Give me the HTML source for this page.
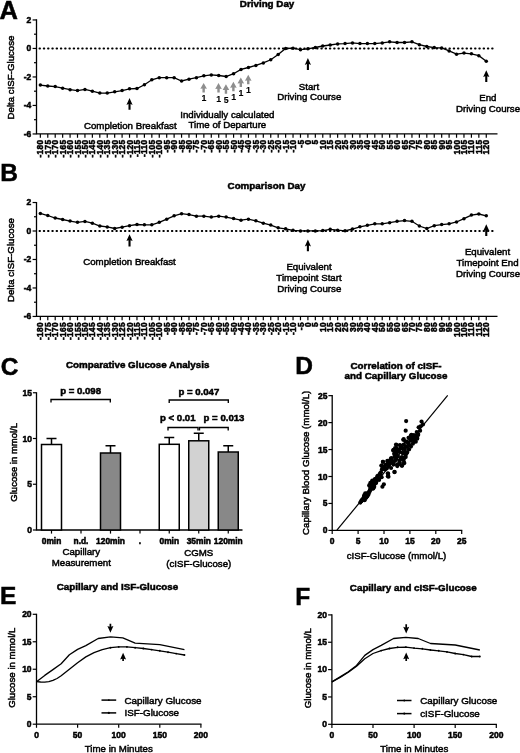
<!DOCTYPE html>
<html><head><meta charset="utf-8"><title>Figure</title>
<style>html,body{margin:0;padding:0;background:#fff;}svg{display:block;will-change:transform;filter:blur(0.35px);}text{font-family:'Liberation Sans',sans-serif;}</style>
</head><body>
<svg width="520" height="753" viewBox="0 0 520 753">
<rect width="520" height="753" fill="#fff"/>
<g id="panelA">
<path d="M36.5 19.35 V133.95 H497.5" fill="none" stroke="#000" stroke-width="1.3"/>
<path d="M32.6 19.95 H36.5" stroke="#000" stroke-width="1.2"/>
<path d="M34.0 34.20 H36.5" stroke="#000" stroke-width="1.2"/>
<path d="M32.6 48.45 H36.5" stroke="#000" stroke-width="1.2"/>
<path d="M34.0 62.70 H36.5" stroke="#000" stroke-width="1.2"/>
<path d="M32.6 76.95 H36.5" stroke="#000" stroke-width="1.2"/>
<path d="M34.0 91.20 H36.5" stroke="#000" stroke-width="1.2"/>
<path d="M32.6 105.45 H36.5" stroke="#000" stroke-width="1.2"/>
<path d="M34.0 119.70 H36.5" stroke="#000" stroke-width="1.2"/>
<path d="M32.6 133.95 H36.5" stroke="#000" stroke-width="1.2"/>
<text x="31.20" y="22.70" font-size="8.5" text-anchor="end" fill="#000" font-weight="bold" stroke="#000" stroke-width="0.5">2</text>
<text x="31.20" y="51.20" font-size="8.5" text-anchor="end" fill="#000" font-weight="bold" stroke="#000" stroke-width="0.5">0</text>
<text x="31.20" y="79.70" font-size="8.5" text-anchor="end" fill="#000" font-weight="bold" stroke="#000" stroke-width="0.5">-2</text>
<text x="31.20" y="108.20" font-size="8.5" text-anchor="end" fill="#000" font-weight="bold" stroke="#000" stroke-width="0.5">-4</text>
<text x="31.20" y="136.70" font-size="8.5" text-anchor="end" fill="#000" font-weight="bold" stroke="#000" stroke-width="0.5">-6</text>
<path d="M39.45 48.45 H494.2" stroke="#000" stroke-width="1.85" stroke-linecap="round" stroke-dasharray="0.6 3.67"/>
<path d="M40.35 133.95 V137.75" stroke="#000" stroke-width="1.2"/>
<text x="43.40" y="139.65" font-size="8.3" text-anchor="end" fill="#000" font-weight="bold" stroke="#000" stroke-width="0.5" transform="rotate(-90 43.40 139.65)" letter-spacing="0.3">-180</text>
<path d="M47.78 133.95 V137.75" stroke="#000" stroke-width="1.2"/>
<text x="50.83" y="139.65" font-size="8.3" text-anchor="end" fill="#000" font-weight="bold" stroke="#000" stroke-width="0.5" transform="rotate(-90 50.83 139.65)" letter-spacing="0.3">-175</text>
<path d="M55.21 133.95 V137.75" stroke="#000" stroke-width="1.2"/>
<text x="58.26" y="139.65" font-size="8.3" text-anchor="end" fill="#000" font-weight="bold" stroke="#000" stroke-width="0.5" transform="rotate(-90 58.26 139.65)" letter-spacing="0.3">-170</text>
<path d="M62.65 133.95 V137.75" stroke="#000" stroke-width="1.2"/>
<text x="65.70" y="139.65" font-size="8.3" text-anchor="end" fill="#000" font-weight="bold" stroke="#000" stroke-width="0.5" transform="rotate(-90 65.70 139.65)" letter-spacing="0.3">-165</text>
<path d="M70.08 133.95 V137.75" stroke="#000" stroke-width="1.2"/>
<text x="73.13" y="139.65" font-size="8.3" text-anchor="end" fill="#000" font-weight="bold" stroke="#000" stroke-width="0.5" transform="rotate(-90 73.13 139.65)" letter-spacing="0.3">-160</text>
<path d="M77.51 133.95 V137.75" stroke="#000" stroke-width="1.2"/>
<text x="80.56" y="139.65" font-size="8.3" text-anchor="end" fill="#000" font-weight="bold" stroke="#000" stroke-width="0.5" transform="rotate(-90 80.56 139.65)" letter-spacing="0.3">-155</text>
<path d="M84.94 133.95 V137.75" stroke="#000" stroke-width="1.2"/>
<text x="87.99" y="139.65" font-size="8.3" text-anchor="end" fill="#000" font-weight="bold" stroke="#000" stroke-width="0.5" transform="rotate(-90 87.99 139.65)" letter-spacing="0.3">-150</text>
<path d="M92.37 133.95 V137.75" stroke="#000" stroke-width="1.2"/>
<text x="95.42" y="139.65" font-size="8.3" text-anchor="end" fill="#000" font-weight="bold" stroke="#000" stroke-width="0.5" transform="rotate(-90 95.42 139.65)" letter-spacing="0.3">-145</text>
<path d="M99.81 133.95 V137.75" stroke="#000" stroke-width="1.2"/>
<text x="102.86" y="139.65" font-size="8.3" text-anchor="end" fill="#000" font-weight="bold" stroke="#000" stroke-width="0.5" transform="rotate(-90 102.86 139.65)" letter-spacing="0.3">-140</text>
<path d="M107.24 133.95 V137.75" stroke="#000" stroke-width="1.2"/>
<text x="110.29" y="139.65" font-size="8.3" text-anchor="end" fill="#000" font-weight="bold" stroke="#000" stroke-width="0.5" transform="rotate(-90 110.29 139.65)" letter-spacing="0.3">-135</text>
<path d="M114.67 133.95 V137.75" stroke="#000" stroke-width="1.2"/>
<text x="117.72" y="139.65" font-size="8.3" text-anchor="end" fill="#000" font-weight="bold" stroke="#000" stroke-width="0.5" transform="rotate(-90 117.72 139.65)" letter-spacing="0.3">-130</text>
<path d="M122.10 133.95 V137.75" stroke="#000" stroke-width="1.2"/>
<text x="125.15" y="139.65" font-size="8.3" text-anchor="end" fill="#000" font-weight="bold" stroke="#000" stroke-width="0.5" transform="rotate(-90 125.15 139.65)" letter-spacing="0.3">-125</text>
<path d="M129.53 133.95 V137.75" stroke="#000" stroke-width="1.2"/>
<text x="132.58" y="139.65" font-size="8.3" text-anchor="end" fill="#000" font-weight="bold" stroke="#000" stroke-width="0.5" transform="rotate(-90 132.58 139.65)" letter-spacing="0.3">-120</text>
<path d="M136.97 133.95 V137.75" stroke="#000" stroke-width="1.2"/>
<text x="140.02" y="139.65" font-size="8.3" text-anchor="end" fill="#000" font-weight="bold" stroke="#000" stroke-width="0.5" transform="rotate(-90 140.02 139.65)" letter-spacing="0.3">-115</text>
<path d="M144.40 133.95 V137.75" stroke="#000" stroke-width="1.2"/>
<text x="147.45" y="139.65" font-size="8.3" text-anchor="end" fill="#000" font-weight="bold" stroke="#000" stroke-width="0.5" transform="rotate(-90 147.45 139.65)" letter-spacing="0.3">-110</text>
<path d="M151.83 133.95 V137.75" stroke="#000" stroke-width="1.2"/>
<text x="154.88" y="139.65" font-size="8.3" text-anchor="end" fill="#000" font-weight="bold" stroke="#000" stroke-width="0.5" transform="rotate(-90 154.88 139.65)" letter-spacing="0.3">-105</text>
<path d="M159.26 133.95 V137.75" stroke="#000" stroke-width="1.2"/>
<text x="162.31" y="139.65" font-size="8.3" text-anchor="end" fill="#000" font-weight="bold" stroke="#000" stroke-width="0.5" transform="rotate(-90 162.31 139.65)" letter-spacing="0.3">-100</text>
<path d="M166.69 133.95 V137.75" stroke="#000" stroke-width="1.2"/>
<text x="169.74" y="139.65" font-size="8.3" text-anchor="end" fill="#000" font-weight="bold" stroke="#000" stroke-width="0.5" transform="rotate(-90 169.74 139.65)" letter-spacing="0.3">-95</text>
<path d="M174.13 133.95 V137.75" stroke="#000" stroke-width="1.2"/>
<text x="177.18" y="139.65" font-size="8.3" text-anchor="end" fill="#000" font-weight="bold" stroke="#000" stroke-width="0.5" transform="rotate(-90 177.18 139.65)" letter-spacing="0.3">-90</text>
<path d="M181.56 133.95 V137.75" stroke="#000" stroke-width="1.2"/>
<text x="184.61" y="139.65" font-size="8.3" text-anchor="end" fill="#000" font-weight="bold" stroke="#000" stroke-width="0.5" transform="rotate(-90 184.61 139.65)" letter-spacing="0.3">-85</text>
<path d="M188.99 133.95 V137.75" stroke="#000" stroke-width="1.2"/>
<text x="192.04" y="139.65" font-size="8.3" text-anchor="end" fill="#000" font-weight="bold" stroke="#000" stroke-width="0.5" transform="rotate(-90 192.04 139.65)" letter-spacing="0.3">-80</text>
<path d="M196.42 133.95 V137.75" stroke="#000" stroke-width="1.2"/>
<text x="199.47" y="139.65" font-size="8.3" text-anchor="end" fill="#000" font-weight="bold" stroke="#000" stroke-width="0.5" transform="rotate(-90 199.47 139.65)" letter-spacing="0.3">-75</text>
<path d="M203.85 133.95 V137.75" stroke="#000" stroke-width="1.2"/>
<text x="206.90" y="139.65" font-size="8.3" text-anchor="end" fill="#000" font-weight="bold" stroke="#000" stroke-width="0.5" transform="rotate(-90 206.90 139.65)" letter-spacing="0.3">-70</text>
<path d="M211.29 133.95 V137.75" stroke="#000" stroke-width="1.2"/>
<text x="214.34" y="139.65" font-size="8.3" text-anchor="end" fill="#000" font-weight="bold" stroke="#000" stroke-width="0.5" transform="rotate(-90 214.34 139.65)" letter-spacing="0.3">-65</text>
<path d="M218.72 133.95 V137.75" stroke="#000" stroke-width="1.2"/>
<text x="221.77" y="139.65" font-size="8.3" text-anchor="end" fill="#000" font-weight="bold" stroke="#000" stroke-width="0.5" transform="rotate(-90 221.77 139.65)" letter-spacing="0.3">-60</text>
<path d="M226.15 133.95 V137.75" stroke="#000" stroke-width="1.2"/>
<text x="229.20" y="139.65" font-size="8.3" text-anchor="end" fill="#000" font-weight="bold" stroke="#000" stroke-width="0.5" transform="rotate(-90 229.20 139.65)" letter-spacing="0.3">-55</text>
<path d="M233.58 133.95 V137.75" stroke="#000" stroke-width="1.2"/>
<text x="236.63" y="139.65" font-size="8.3" text-anchor="end" fill="#000" font-weight="bold" stroke="#000" stroke-width="0.5" transform="rotate(-90 236.63 139.65)" letter-spacing="0.3">-50</text>
<path d="M241.01 133.95 V137.75" stroke="#000" stroke-width="1.2"/>
<text x="244.06" y="139.65" font-size="8.3" text-anchor="end" fill="#000" font-weight="bold" stroke="#000" stroke-width="0.5" transform="rotate(-90 244.06 139.65)" letter-spacing="0.3">-45</text>
<path d="M248.45 133.95 V137.75" stroke="#000" stroke-width="1.2"/>
<text x="251.50" y="139.65" font-size="8.3" text-anchor="end" fill="#000" font-weight="bold" stroke="#000" stroke-width="0.5" transform="rotate(-90 251.50 139.65)" letter-spacing="0.3">-40</text>
<path d="M255.88 133.95 V137.75" stroke="#000" stroke-width="1.2"/>
<text x="258.93" y="139.65" font-size="8.3" text-anchor="end" fill="#000" font-weight="bold" stroke="#000" stroke-width="0.5" transform="rotate(-90 258.93 139.65)" letter-spacing="0.3">-35</text>
<path d="M263.31 133.95 V137.75" stroke="#000" stroke-width="1.2"/>
<text x="266.36" y="139.65" font-size="8.3" text-anchor="end" fill="#000" font-weight="bold" stroke="#000" stroke-width="0.5" transform="rotate(-90 266.36 139.65)" letter-spacing="0.3">-30</text>
<path d="M270.74 133.95 V137.75" stroke="#000" stroke-width="1.2"/>
<text x="273.79" y="139.65" font-size="8.3" text-anchor="end" fill="#000" font-weight="bold" stroke="#000" stroke-width="0.5" transform="rotate(-90 273.79 139.65)" letter-spacing="0.3">-25</text>
<path d="M278.17 133.95 V137.75" stroke="#000" stroke-width="1.2"/>
<text x="281.22" y="139.65" font-size="8.3" text-anchor="end" fill="#000" font-weight="bold" stroke="#000" stroke-width="0.5" transform="rotate(-90 281.22 139.65)" letter-spacing="0.3">-20</text>
<path d="M285.61 133.95 V137.75" stroke="#000" stroke-width="1.2"/>
<text x="288.66" y="139.65" font-size="8.3" text-anchor="end" fill="#000" font-weight="bold" stroke="#000" stroke-width="0.5" transform="rotate(-90 288.66 139.65)" letter-spacing="0.3">-15</text>
<path d="M293.04 133.95 V137.75" stroke="#000" stroke-width="1.2"/>
<text x="296.09" y="139.65" font-size="8.3" text-anchor="end" fill="#000" font-weight="bold" stroke="#000" stroke-width="0.5" transform="rotate(-90 296.09 139.65)" letter-spacing="0.3">-10</text>
<path d="M300.47 133.95 V137.75" stroke="#000" stroke-width="1.2"/>
<text x="303.52" y="139.65" font-size="8.3" text-anchor="end" fill="#000" font-weight="bold" stroke="#000" stroke-width="0.5" transform="rotate(-90 303.52 139.65)" letter-spacing="0.3">-5</text>
<path d="M307.90 133.95 V137.75" stroke="#000" stroke-width="1.2"/>
<text x="310.95" y="139.65" font-size="8.3" text-anchor="end" fill="#000" font-weight="bold" stroke="#000" stroke-width="0.5" transform="rotate(-90 310.95 139.65)" letter-spacing="0.3">0</text>
<path d="M315.33 133.95 V137.75" stroke="#000" stroke-width="1.2"/>
<text x="318.38" y="139.65" font-size="8.3" text-anchor="end" fill="#000" font-weight="bold" stroke="#000" stroke-width="0.5" transform="rotate(-90 318.38 139.65)" letter-spacing="0.3">5</text>
<path d="M322.77 133.95 V137.75" stroke="#000" stroke-width="1.2"/>
<text x="325.82" y="139.65" font-size="8.3" text-anchor="end" fill="#000" font-weight="bold" stroke="#000" stroke-width="0.5" transform="rotate(-90 325.82 139.65)" letter-spacing="0.3">10</text>
<path d="M330.20 133.95 V137.75" stroke="#000" stroke-width="1.2"/>
<text x="333.25" y="139.65" font-size="8.3" text-anchor="end" fill="#000" font-weight="bold" stroke="#000" stroke-width="0.5" transform="rotate(-90 333.25 139.65)" letter-spacing="0.3">15</text>
<path d="M337.63 133.95 V137.75" stroke="#000" stroke-width="1.2"/>
<text x="340.68" y="139.65" font-size="8.3" text-anchor="end" fill="#000" font-weight="bold" stroke="#000" stroke-width="0.5" transform="rotate(-90 340.68 139.65)" letter-spacing="0.3">20</text>
<path d="M345.06 133.95 V137.75" stroke="#000" stroke-width="1.2"/>
<text x="348.11" y="139.65" font-size="8.3" text-anchor="end" fill="#000" font-weight="bold" stroke="#000" stroke-width="0.5" transform="rotate(-90 348.11 139.65)" letter-spacing="0.3">25</text>
<path d="M352.49 133.95 V137.75" stroke="#000" stroke-width="1.2"/>
<text x="355.54" y="139.65" font-size="8.3" text-anchor="end" fill="#000" font-weight="bold" stroke="#000" stroke-width="0.5" transform="rotate(-90 355.54 139.65)" letter-spacing="0.3">30</text>
<path d="M359.93 133.95 V137.75" stroke="#000" stroke-width="1.2"/>
<text x="362.98" y="139.65" font-size="8.3" text-anchor="end" fill="#000" font-weight="bold" stroke="#000" stroke-width="0.5" transform="rotate(-90 362.98 139.65)" letter-spacing="0.3">35</text>
<path d="M367.36 133.95 V137.75" stroke="#000" stroke-width="1.2"/>
<text x="370.41" y="139.65" font-size="8.3" text-anchor="end" fill="#000" font-weight="bold" stroke="#000" stroke-width="0.5" transform="rotate(-90 370.41 139.65)" letter-spacing="0.3">40</text>
<path d="M374.79 133.95 V137.75" stroke="#000" stroke-width="1.2"/>
<text x="377.84" y="139.65" font-size="8.3" text-anchor="end" fill="#000" font-weight="bold" stroke="#000" stroke-width="0.5" transform="rotate(-90 377.84 139.65)" letter-spacing="0.3">45</text>
<path d="M382.22 133.95 V137.75" stroke="#000" stroke-width="1.2"/>
<text x="385.27" y="139.65" font-size="8.3" text-anchor="end" fill="#000" font-weight="bold" stroke="#000" stroke-width="0.5" transform="rotate(-90 385.27 139.65)" letter-spacing="0.3">50</text>
<path d="M389.65 133.95 V137.75" stroke="#000" stroke-width="1.2"/>
<text x="392.70" y="139.65" font-size="8.3" text-anchor="end" fill="#000" font-weight="bold" stroke="#000" stroke-width="0.5" transform="rotate(-90 392.70 139.65)" letter-spacing="0.3">55</text>
<path d="M397.09 133.95 V137.75" stroke="#000" stroke-width="1.2"/>
<text x="400.14" y="139.65" font-size="8.3" text-anchor="end" fill="#000" font-weight="bold" stroke="#000" stroke-width="0.5" transform="rotate(-90 400.14 139.65)" letter-spacing="0.3">60</text>
<path d="M404.52 133.95 V137.75" stroke="#000" stroke-width="1.2"/>
<text x="407.57" y="139.65" font-size="8.3" text-anchor="end" fill="#000" font-weight="bold" stroke="#000" stroke-width="0.5" transform="rotate(-90 407.57 139.65)" letter-spacing="0.3">65</text>
<path d="M411.95 133.95 V137.75" stroke="#000" stroke-width="1.2"/>
<text x="415.00" y="139.65" font-size="8.3" text-anchor="end" fill="#000" font-weight="bold" stroke="#000" stroke-width="0.5" transform="rotate(-90 415.00 139.65)" letter-spacing="0.3">70</text>
<path d="M419.38 133.95 V137.75" stroke="#000" stroke-width="1.2"/>
<text x="422.43" y="139.65" font-size="8.3" text-anchor="end" fill="#000" font-weight="bold" stroke="#000" stroke-width="0.5" transform="rotate(-90 422.43 139.65)" letter-spacing="0.3">75</text>
<path d="M426.81 133.95 V137.75" stroke="#000" stroke-width="1.2"/>
<text x="429.86" y="139.65" font-size="8.3" text-anchor="end" fill="#000" font-weight="bold" stroke="#000" stroke-width="0.5" transform="rotate(-90 429.86 139.65)" letter-spacing="0.3">80</text>
<path d="M434.25 133.95 V137.75" stroke="#000" stroke-width="1.2"/>
<text x="437.30" y="139.65" font-size="8.3" text-anchor="end" fill="#000" font-weight="bold" stroke="#000" stroke-width="0.5" transform="rotate(-90 437.30 139.65)" letter-spacing="0.3">85</text>
<path d="M441.68 133.95 V137.75" stroke="#000" stroke-width="1.2"/>
<text x="444.73" y="139.65" font-size="8.3" text-anchor="end" fill="#000" font-weight="bold" stroke="#000" stroke-width="0.5" transform="rotate(-90 444.73 139.65)" letter-spacing="0.3">90</text>
<path d="M449.11 133.95 V137.75" stroke="#000" stroke-width="1.2"/>
<text x="452.16" y="139.65" font-size="8.3" text-anchor="end" fill="#000" font-weight="bold" stroke="#000" stroke-width="0.5" transform="rotate(-90 452.16 139.65)" letter-spacing="0.3">95</text>
<path d="M456.54 133.95 V137.75" stroke="#000" stroke-width="1.2"/>
<text x="459.59" y="139.65" font-size="8.3" text-anchor="end" fill="#000" font-weight="bold" stroke="#000" stroke-width="0.5" transform="rotate(-90 459.59 139.65)" letter-spacing="0.3">100</text>
<path d="M463.97 133.95 V137.75" stroke="#000" stroke-width="1.2"/>
<text x="467.02" y="139.65" font-size="8.3" text-anchor="end" fill="#000" font-weight="bold" stroke="#000" stroke-width="0.5" transform="rotate(-90 467.02 139.65)" letter-spacing="0.3">105</text>
<path d="M471.41 133.95 V137.75" stroke="#000" stroke-width="1.2"/>
<text x="474.46" y="139.65" font-size="8.3" text-anchor="end" fill="#000" font-weight="bold" stroke="#000" stroke-width="0.5" transform="rotate(-90 474.46 139.65)" letter-spacing="0.3">110</text>
<path d="M478.84 133.95 V137.75" stroke="#000" stroke-width="1.2"/>
<text x="481.89" y="139.65" font-size="8.3" text-anchor="end" fill="#000" font-weight="bold" stroke="#000" stroke-width="0.5" transform="rotate(-90 481.89 139.65)" letter-spacing="0.3">115</text>
<path d="M486.27 133.95 V137.75" stroke="#000" stroke-width="1.2"/>
<text x="489.32" y="139.65" font-size="8.3" text-anchor="end" fill="#000" font-weight="bold" stroke="#000" stroke-width="0.5" transform="rotate(-90 489.32 139.65)" letter-spacing="0.3">120</text>
<polyline points="40.35,85.10 47.78,86.00 55.21,86.60 62.65,88.20 70.08,89.70 77.51,90.60 84.94,89.40 92.37,91.20 99.81,93.10 107.24,93.10 114.67,91.80 122.10,90.60 129.53,88.80 136.97,88.50 144.40,84.80 151.83,79.80 159.26,77.70 166.69,77.70 174.13,77.70 181.56,81.00 188.99,79.20 196.42,77.70 203.85,75.80 211.29,74.90 218.72,75.50 226.15,76.50 233.58,73.70 241.01,69.40 248.45,67.50 255.88,65.40 263.31,62.90 270.74,59.80 278.17,54.60 285.61,48.50 293.04,48.20 300.47,49.70 307.90,48.80 315.33,47.50 322.77,46.00 330.20,45.00 337.63,43.90 345.06,43.60 352.49,42.90 359.93,43.60 367.36,43.60 374.79,43.60 382.22,42.90 389.65,41.80 397.09,42.50 404.52,42.50 411.95,41.80 419.38,44.70 426.81,46.50 434.25,47.60 441.68,48.00 449.11,50.90 456.54,54.20 463.97,53.10 471.41,53.80 478.84,55.70 486.27,61.20" fill="none" stroke="#000" stroke-width="1.3"/>
<circle cx="40.35" cy="85.10" r="1.75" fill="#000"/>
<circle cx="47.78" cy="86.00" r="1.75" fill="#000"/>
<circle cx="55.21" cy="86.60" r="1.75" fill="#000"/>
<circle cx="62.65" cy="88.20" r="1.75" fill="#000"/>
<circle cx="70.08" cy="89.70" r="1.75" fill="#000"/>
<circle cx="77.51" cy="90.60" r="1.75" fill="#000"/>
<circle cx="84.94" cy="89.40" r="1.75" fill="#000"/>
<circle cx="92.37" cy="91.20" r="1.75" fill="#000"/>
<circle cx="99.81" cy="93.10" r="1.75" fill="#000"/>
<circle cx="107.24" cy="93.10" r="1.75" fill="#000"/>
<circle cx="114.67" cy="91.80" r="1.75" fill="#000"/>
<circle cx="122.10" cy="90.60" r="1.75" fill="#000"/>
<circle cx="129.53" cy="88.80" r="1.75" fill="#000"/>
<circle cx="136.97" cy="88.50" r="1.75" fill="#000"/>
<circle cx="144.40" cy="84.80" r="1.75" fill="#000"/>
<circle cx="151.83" cy="79.80" r="1.75" fill="#000"/>
<circle cx="159.26" cy="77.70" r="1.75" fill="#000"/>
<circle cx="166.69" cy="77.70" r="1.75" fill="#000"/>
<circle cx="174.13" cy="77.70" r="1.75" fill="#000"/>
<circle cx="181.56" cy="81.00" r="1.75" fill="#000"/>
<circle cx="188.99" cy="79.20" r="1.75" fill="#000"/>
<circle cx="196.42" cy="77.70" r="1.75" fill="#000"/>
<circle cx="203.85" cy="75.80" r="1.75" fill="#000"/>
<circle cx="211.29" cy="74.90" r="1.75" fill="#000"/>
<circle cx="218.72" cy="75.50" r="1.75" fill="#000"/>
<circle cx="226.15" cy="76.50" r="1.75" fill="#000"/>
<circle cx="233.58" cy="73.70" r="1.75" fill="#000"/>
<circle cx="241.01" cy="69.40" r="1.75" fill="#000"/>
<circle cx="248.45" cy="67.50" r="1.75" fill="#000"/>
<circle cx="255.88" cy="65.40" r="1.75" fill="#000"/>
<circle cx="263.31" cy="62.90" r="1.75" fill="#000"/>
<circle cx="270.74" cy="59.80" r="1.75" fill="#000"/>
<circle cx="278.17" cy="54.60" r="1.75" fill="#000"/>
<circle cx="285.61" cy="48.50" r="1.75" fill="#000"/>
<circle cx="293.04" cy="48.20" r="1.75" fill="#000"/>
<circle cx="300.47" cy="49.70" r="1.75" fill="#000"/>
<circle cx="307.90" cy="48.80" r="1.75" fill="#000"/>
<circle cx="315.33" cy="47.50" r="1.75" fill="#000"/>
<circle cx="322.77" cy="46.00" r="1.75" fill="#000"/>
<circle cx="330.20" cy="45.00" r="1.75" fill="#000"/>
<circle cx="337.63" cy="43.90" r="1.75" fill="#000"/>
<circle cx="345.06" cy="43.60" r="1.75" fill="#000"/>
<circle cx="352.49" cy="42.90" r="1.75" fill="#000"/>
<circle cx="359.93" cy="43.60" r="1.75" fill="#000"/>
<circle cx="367.36" cy="43.60" r="1.75" fill="#000"/>
<circle cx="374.79" cy="43.60" r="1.75" fill="#000"/>
<circle cx="382.22" cy="42.90" r="1.75" fill="#000"/>
<circle cx="389.65" cy="41.80" r="1.75" fill="#000"/>
<circle cx="397.09" cy="42.50" r="1.75" fill="#000"/>
<circle cx="404.52" cy="42.50" r="1.75" fill="#000"/>
<circle cx="411.95" cy="41.80" r="1.75" fill="#000"/>
<circle cx="419.38" cy="44.70" r="1.75" fill="#000"/>
<circle cx="426.81" cy="46.50" r="1.75" fill="#000"/>
<circle cx="434.25" cy="47.60" r="1.75" fill="#000"/>
<circle cx="441.68" cy="48.00" r="1.75" fill="#000"/>
<circle cx="449.11" cy="50.90" r="1.75" fill="#000"/>
<circle cx="456.54" cy="54.20" r="1.75" fill="#000"/>
<circle cx="463.97" cy="53.10" r="1.75" fill="#000"/>
<circle cx="471.41" cy="53.80" r="1.75" fill="#000"/>
<circle cx="478.84" cy="55.70" r="1.75" fill="#000"/>
<circle cx="486.27" cy="61.20" r="1.75" fill="#000"/>
<text x="267.10" y="6.80" font-size="9.8" text-anchor="middle" fill="#000" font-weight="bold" stroke="#000" stroke-width="0.5">Driving Day</text>
<text x="14.20" y="77.50" font-size="9.7" text-anchor="middle" fill="#000" stroke="#000" stroke-width="0.48" transform="rotate(-90 14.20 77.50)">Delta cISF-Glucose</text>
<text x="8.80" y="19.00" font-size="25.5" text-anchor="middle" fill="#000" font-weight="bold" stroke="#000" stroke-width="0.5">A</text>
<path d="M129.53 98.10 L132.63 104.90 L130.58 104.10 L130.58 109.80 L128.48 109.80 L128.48 104.10 L126.43 104.90 Z" fill="#000"/>
<path d="M307.90 58.10 L311.00 64.90 L308.95 64.10 L308.95 70.00 L306.85 70.00 L306.85 64.10 L304.80 64.90 Z" fill="#000"/>
<path d="M486.27 70.30 L489.37 77.10 L487.32 76.30 L487.32 82.00 L485.22 82.00 L485.22 76.30 L483.17 77.10 Z" fill="#000"/>
<path d="M203.65 82.90 L206.95 88.80 L204.85 88.60 L204.85 92.40 L202.45 92.40 L202.45 88.60 L200.35 88.80 Z" fill="#8e8e8e"/>
<text x="203.85" y="101.30" font-size="8.8" text-anchor="middle" fill="#000" font-weight="bold" stroke="#000" stroke-width="0.1">1</text>
<path d="M218.52 83.10 L221.82 89.00 L219.72 88.80 L219.72 92.60 L217.32 92.60 L217.32 88.80 L215.22 89.00 Z" fill="#8e8e8e"/>
<text x="218.72" y="101.50" font-size="8.8" text-anchor="middle" fill="#000" font-weight="bold" stroke="#000" stroke-width="0.1">1</text>
<path d="M225.95 84.20 L229.25 90.10 L227.15 89.90 L227.15 93.70 L224.75 93.70 L224.75 89.90 L222.65 90.10 Z" fill="#8e8e8e"/>
<text x="226.15" y="102.60" font-size="8.8" text-anchor="middle" fill="#000" font-weight="bold" stroke="#000" stroke-width="0.1">5</text>
<path d="M233.38 81.80 L236.68 87.70 L234.58 87.50 L234.58 91.30 L232.18 91.30 L232.18 87.50 L230.08 87.70 Z" fill="#8e8e8e"/>
<text x="233.58" y="100.20" font-size="8.8" text-anchor="middle" fill="#000" font-weight="bold" stroke="#000" stroke-width="0.1">1</text>
<path d="M240.81 77.50 L244.11 83.40 L242.01 83.20 L242.01 87.00 L239.61 87.00 L239.61 83.20 L237.51 83.40 Z" fill="#8e8e8e"/>
<text x="241.01" y="95.90" font-size="8.8" text-anchor="middle" fill="#000" font-weight="bold" stroke="#000" stroke-width="0.1">1</text>
<path d="M248.25 74.80 L251.55 80.70 L249.45 80.50 L249.45 84.30 L247.05 84.30 L247.05 80.50 L244.95 80.70 Z" fill="#8e8e8e"/>
<text x="248.45" y="93.20" font-size="8.8" text-anchor="middle" fill="#000" font-weight="bold" stroke="#000" stroke-width="0.1">1</text>
<text x="130.30" y="129.20" font-size="9.7" text-anchor="middle" fill="#000" stroke="#000" stroke-width="0.48">Completion Breakfast</text>
<text x="227.40" y="117.70" font-size="9.7" text-anchor="middle" fill="#000" stroke="#000" stroke-width="0.48">Individually calculated</text>
<text x="227.40" y="128.20" font-size="9.7" text-anchor="middle" fill="#000" stroke="#000" stroke-width="0.48">Time of Departure</text>
<text x="309.00" y="89.70" font-size="9.7" text-anchor="middle" fill="#000" stroke="#000" stroke-width="0.48">Start</text>
<text x="309.30" y="99.70" font-size="9.7" text-anchor="middle" fill="#000" stroke="#000" stroke-width="0.48">Driving Course</text>
<text x="487.80" y="101.40" font-size="9.7" text-anchor="middle" fill="#000" stroke="#000" stroke-width="0.48">End</text>
<text x="488.00" y="112.40" font-size="9.7" text-anchor="middle" fill="#000" stroke="#000" stroke-width="0.48">Driving Course</text>
</g>
<g id="panelB">
<path d="M36.5 201.92 V316.45 H497.5" fill="none" stroke="#000" stroke-width="1.3"/>
<path d="M32.6 202.52 H36.5" stroke="#000" stroke-width="1.2"/>
<path d="M34.0 216.76 H36.5" stroke="#000" stroke-width="1.2"/>
<path d="M32.6 231.00 H36.5" stroke="#000" stroke-width="1.2"/>
<path d="M34.0 245.24 H36.5" stroke="#000" stroke-width="1.2"/>
<path d="M32.6 259.48 H36.5" stroke="#000" stroke-width="1.2"/>
<path d="M34.0 273.73 H36.5" stroke="#000" stroke-width="1.2"/>
<path d="M32.6 287.97 H36.5" stroke="#000" stroke-width="1.2"/>
<path d="M34.0 302.21 H36.5" stroke="#000" stroke-width="1.2"/>
<path d="M32.6 316.45 H36.5" stroke="#000" stroke-width="1.2"/>
<text x="31.20" y="205.27" font-size="8.5" text-anchor="end" fill="#000" font-weight="bold" stroke="#000" stroke-width="0.5">2</text>
<text x="31.20" y="233.75" font-size="8.5" text-anchor="end" fill="#000" font-weight="bold" stroke="#000" stroke-width="0.5">0</text>
<text x="31.20" y="262.23" font-size="8.5" text-anchor="end" fill="#000" font-weight="bold" stroke="#000" stroke-width="0.5">-2</text>
<text x="31.20" y="290.72" font-size="8.5" text-anchor="end" fill="#000" font-weight="bold" stroke="#000" stroke-width="0.5">-4</text>
<text x="31.20" y="319.20" font-size="8.5" text-anchor="end" fill="#000" font-weight="bold" stroke="#000" stroke-width="0.5">-6</text>
<path d="M39.45 231.00 H494.2" stroke="#000" stroke-width="1.85" stroke-linecap="round" stroke-dasharray="0.6 3.67"/>
<path d="M40.35 316.45 V320.25" stroke="#000" stroke-width="1.2"/>
<text x="43.40" y="322.15" font-size="8.3" text-anchor="end" fill="#000" font-weight="bold" stroke="#000" stroke-width="0.5" transform="rotate(-90 43.40 322.15)" letter-spacing="0.3">-180</text>
<path d="M47.78 316.45 V320.25" stroke="#000" stroke-width="1.2"/>
<text x="50.83" y="322.15" font-size="8.3" text-anchor="end" fill="#000" font-weight="bold" stroke="#000" stroke-width="0.5" transform="rotate(-90 50.83 322.15)" letter-spacing="0.3">-175</text>
<path d="M55.21 316.45 V320.25" stroke="#000" stroke-width="1.2"/>
<text x="58.26" y="322.15" font-size="8.3" text-anchor="end" fill="#000" font-weight="bold" stroke="#000" stroke-width="0.5" transform="rotate(-90 58.26 322.15)" letter-spacing="0.3">-170</text>
<path d="M62.65 316.45 V320.25" stroke="#000" stroke-width="1.2"/>
<text x="65.70" y="322.15" font-size="8.3" text-anchor="end" fill="#000" font-weight="bold" stroke="#000" stroke-width="0.5" transform="rotate(-90 65.70 322.15)" letter-spacing="0.3">-165</text>
<path d="M70.08 316.45 V320.25" stroke="#000" stroke-width="1.2"/>
<text x="73.13" y="322.15" font-size="8.3" text-anchor="end" fill="#000" font-weight="bold" stroke="#000" stroke-width="0.5" transform="rotate(-90 73.13 322.15)" letter-spacing="0.3">-160</text>
<path d="M77.51 316.45 V320.25" stroke="#000" stroke-width="1.2"/>
<text x="80.56" y="322.15" font-size="8.3" text-anchor="end" fill="#000" font-weight="bold" stroke="#000" stroke-width="0.5" transform="rotate(-90 80.56 322.15)" letter-spacing="0.3">-155</text>
<path d="M84.94 316.45 V320.25" stroke="#000" stroke-width="1.2"/>
<text x="87.99" y="322.15" font-size="8.3" text-anchor="end" fill="#000" font-weight="bold" stroke="#000" stroke-width="0.5" transform="rotate(-90 87.99 322.15)" letter-spacing="0.3">-150</text>
<path d="M92.37 316.45 V320.25" stroke="#000" stroke-width="1.2"/>
<text x="95.42" y="322.15" font-size="8.3" text-anchor="end" fill="#000" font-weight="bold" stroke="#000" stroke-width="0.5" transform="rotate(-90 95.42 322.15)" letter-spacing="0.3">-145</text>
<path d="M99.81 316.45 V320.25" stroke="#000" stroke-width="1.2"/>
<text x="102.86" y="322.15" font-size="8.3" text-anchor="end" fill="#000" font-weight="bold" stroke="#000" stroke-width="0.5" transform="rotate(-90 102.86 322.15)" letter-spacing="0.3">-140</text>
<path d="M107.24 316.45 V320.25" stroke="#000" stroke-width="1.2"/>
<text x="110.29" y="322.15" font-size="8.3" text-anchor="end" fill="#000" font-weight="bold" stroke="#000" stroke-width="0.5" transform="rotate(-90 110.29 322.15)" letter-spacing="0.3">-135</text>
<path d="M114.67 316.45 V320.25" stroke="#000" stroke-width="1.2"/>
<text x="117.72" y="322.15" font-size="8.3" text-anchor="end" fill="#000" font-weight="bold" stroke="#000" stroke-width="0.5" transform="rotate(-90 117.72 322.15)" letter-spacing="0.3">-130</text>
<path d="M122.10 316.45 V320.25" stroke="#000" stroke-width="1.2"/>
<text x="125.15" y="322.15" font-size="8.3" text-anchor="end" fill="#000" font-weight="bold" stroke="#000" stroke-width="0.5" transform="rotate(-90 125.15 322.15)" letter-spacing="0.3">-125</text>
<path d="M129.53 316.45 V320.25" stroke="#000" stroke-width="1.2"/>
<text x="132.58" y="322.15" font-size="8.3" text-anchor="end" fill="#000" font-weight="bold" stroke="#000" stroke-width="0.5" transform="rotate(-90 132.58 322.15)" letter-spacing="0.3">-120</text>
<path d="M136.97 316.45 V320.25" stroke="#000" stroke-width="1.2"/>
<text x="140.02" y="322.15" font-size="8.3" text-anchor="end" fill="#000" font-weight="bold" stroke="#000" stroke-width="0.5" transform="rotate(-90 140.02 322.15)" letter-spacing="0.3">-115</text>
<path d="M144.40 316.45 V320.25" stroke="#000" stroke-width="1.2"/>
<text x="147.45" y="322.15" font-size="8.3" text-anchor="end" fill="#000" font-weight="bold" stroke="#000" stroke-width="0.5" transform="rotate(-90 147.45 322.15)" letter-spacing="0.3">-110</text>
<path d="M151.83 316.45 V320.25" stroke="#000" stroke-width="1.2"/>
<text x="154.88" y="322.15" font-size="8.3" text-anchor="end" fill="#000" font-weight="bold" stroke="#000" stroke-width="0.5" transform="rotate(-90 154.88 322.15)" letter-spacing="0.3">-105</text>
<path d="M159.26 316.45 V320.25" stroke="#000" stroke-width="1.2"/>
<text x="162.31" y="322.15" font-size="8.3" text-anchor="end" fill="#000" font-weight="bold" stroke="#000" stroke-width="0.5" transform="rotate(-90 162.31 322.15)" letter-spacing="0.3">-100</text>
<path d="M166.69 316.45 V320.25" stroke="#000" stroke-width="1.2"/>
<text x="169.74" y="322.15" font-size="8.3" text-anchor="end" fill="#000" font-weight="bold" stroke="#000" stroke-width="0.5" transform="rotate(-90 169.74 322.15)" letter-spacing="0.3">-95</text>
<path d="M174.13 316.45 V320.25" stroke="#000" stroke-width="1.2"/>
<text x="177.18" y="322.15" font-size="8.3" text-anchor="end" fill="#000" font-weight="bold" stroke="#000" stroke-width="0.5" transform="rotate(-90 177.18 322.15)" letter-spacing="0.3">-90</text>
<path d="M181.56 316.45 V320.25" stroke="#000" stroke-width="1.2"/>
<text x="184.61" y="322.15" font-size="8.3" text-anchor="end" fill="#000" font-weight="bold" stroke="#000" stroke-width="0.5" transform="rotate(-90 184.61 322.15)" letter-spacing="0.3">-85</text>
<path d="M188.99 316.45 V320.25" stroke="#000" stroke-width="1.2"/>
<text x="192.04" y="322.15" font-size="8.3" text-anchor="end" fill="#000" font-weight="bold" stroke="#000" stroke-width="0.5" transform="rotate(-90 192.04 322.15)" letter-spacing="0.3">-80</text>
<path d="M196.42 316.45 V320.25" stroke="#000" stroke-width="1.2"/>
<text x="199.47" y="322.15" font-size="8.3" text-anchor="end" fill="#000" font-weight="bold" stroke="#000" stroke-width="0.5" transform="rotate(-90 199.47 322.15)" letter-spacing="0.3">-75</text>
<path d="M203.85 316.45 V320.25" stroke="#000" stroke-width="1.2"/>
<text x="206.90" y="322.15" font-size="8.3" text-anchor="end" fill="#000" font-weight="bold" stroke="#000" stroke-width="0.5" transform="rotate(-90 206.90 322.15)" letter-spacing="0.3">-70</text>
<path d="M211.29 316.45 V320.25" stroke="#000" stroke-width="1.2"/>
<text x="214.34" y="322.15" font-size="8.3" text-anchor="end" fill="#000" font-weight="bold" stroke="#000" stroke-width="0.5" transform="rotate(-90 214.34 322.15)" letter-spacing="0.3">-65</text>
<path d="M218.72 316.45 V320.25" stroke="#000" stroke-width="1.2"/>
<text x="221.77" y="322.15" font-size="8.3" text-anchor="end" fill="#000" font-weight="bold" stroke="#000" stroke-width="0.5" transform="rotate(-90 221.77 322.15)" letter-spacing="0.3">-60</text>
<path d="M226.15 316.45 V320.25" stroke="#000" stroke-width="1.2"/>
<text x="229.20" y="322.15" font-size="8.3" text-anchor="end" fill="#000" font-weight="bold" stroke="#000" stroke-width="0.5" transform="rotate(-90 229.20 322.15)" letter-spacing="0.3">-55</text>
<path d="M233.58 316.45 V320.25" stroke="#000" stroke-width="1.2"/>
<text x="236.63" y="322.15" font-size="8.3" text-anchor="end" fill="#000" font-weight="bold" stroke="#000" stroke-width="0.5" transform="rotate(-90 236.63 322.15)" letter-spacing="0.3">-50</text>
<path d="M241.01 316.45 V320.25" stroke="#000" stroke-width="1.2"/>
<text x="244.06" y="322.15" font-size="8.3" text-anchor="end" fill="#000" font-weight="bold" stroke="#000" stroke-width="0.5" transform="rotate(-90 244.06 322.15)" letter-spacing="0.3">-45</text>
<path d="M248.45 316.45 V320.25" stroke="#000" stroke-width="1.2"/>
<text x="251.50" y="322.15" font-size="8.3" text-anchor="end" fill="#000" font-weight="bold" stroke="#000" stroke-width="0.5" transform="rotate(-90 251.50 322.15)" letter-spacing="0.3">-40</text>
<path d="M255.88 316.45 V320.25" stroke="#000" stroke-width="1.2"/>
<text x="258.93" y="322.15" font-size="8.3" text-anchor="end" fill="#000" font-weight="bold" stroke="#000" stroke-width="0.5" transform="rotate(-90 258.93 322.15)" letter-spacing="0.3">-35</text>
<path d="M263.31 316.45 V320.25" stroke="#000" stroke-width="1.2"/>
<text x="266.36" y="322.15" font-size="8.3" text-anchor="end" fill="#000" font-weight="bold" stroke="#000" stroke-width="0.5" transform="rotate(-90 266.36 322.15)" letter-spacing="0.3">-30</text>
<path d="M270.74 316.45 V320.25" stroke="#000" stroke-width="1.2"/>
<text x="273.79" y="322.15" font-size="8.3" text-anchor="end" fill="#000" font-weight="bold" stroke="#000" stroke-width="0.5" transform="rotate(-90 273.79 322.15)" letter-spacing="0.3">-25</text>
<path d="M278.17 316.45 V320.25" stroke="#000" stroke-width="1.2"/>
<text x="281.22" y="322.15" font-size="8.3" text-anchor="end" fill="#000" font-weight="bold" stroke="#000" stroke-width="0.5" transform="rotate(-90 281.22 322.15)" letter-spacing="0.3">-20</text>
<path d="M285.61 316.45 V320.25" stroke="#000" stroke-width="1.2"/>
<text x="288.66" y="322.15" font-size="8.3" text-anchor="end" fill="#000" font-weight="bold" stroke="#000" stroke-width="0.5" transform="rotate(-90 288.66 322.15)" letter-spacing="0.3">-15</text>
<path d="M293.04 316.45 V320.25" stroke="#000" stroke-width="1.2"/>
<text x="296.09" y="322.15" font-size="8.3" text-anchor="end" fill="#000" font-weight="bold" stroke="#000" stroke-width="0.5" transform="rotate(-90 296.09 322.15)" letter-spacing="0.3">-10</text>
<path d="M300.47 316.45 V320.25" stroke="#000" stroke-width="1.2"/>
<text x="303.52" y="322.15" font-size="8.3" text-anchor="end" fill="#000" font-weight="bold" stroke="#000" stroke-width="0.5" transform="rotate(-90 303.52 322.15)" letter-spacing="0.3">-5</text>
<path d="M307.90 316.45 V320.25" stroke="#000" stroke-width="1.2"/>
<text x="310.95" y="322.15" font-size="8.3" text-anchor="end" fill="#000" font-weight="bold" stroke="#000" stroke-width="0.5" transform="rotate(-90 310.95 322.15)" letter-spacing="0.3">0</text>
<path d="M315.33 316.45 V320.25" stroke="#000" stroke-width="1.2"/>
<text x="318.38" y="322.15" font-size="8.3" text-anchor="end" fill="#000" font-weight="bold" stroke="#000" stroke-width="0.5" transform="rotate(-90 318.38 322.15)" letter-spacing="0.3">5</text>
<path d="M322.77 316.45 V320.25" stroke="#000" stroke-width="1.2"/>
<text x="325.82" y="322.15" font-size="8.3" text-anchor="end" fill="#000" font-weight="bold" stroke="#000" stroke-width="0.5" transform="rotate(-90 325.82 322.15)" letter-spacing="0.3">10</text>
<path d="M330.20 316.45 V320.25" stroke="#000" stroke-width="1.2"/>
<text x="333.25" y="322.15" font-size="8.3" text-anchor="end" fill="#000" font-weight="bold" stroke="#000" stroke-width="0.5" transform="rotate(-90 333.25 322.15)" letter-spacing="0.3">15</text>
<path d="M337.63 316.45 V320.25" stroke="#000" stroke-width="1.2"/>
<text x="340.68" y="322.15" font-size="8.3" text-anchor="end" fill="#000" font-weight="bold" stroke="#000" stroke-width="0.5" transform="rotate(-90 340.68 322.15)" letter-spacing="0.3">20</text>
<path d="M345.06 316.45 V320.25" stroke="#000" stroke-width="1.2"/>
<text x="348.11" y="322.15" font-size="8.3" text-anchor="end" fill="#000" font-weight="bold" stroke="#000" stroke-width="0.5" transform="rotate(-90 348.11 322.15)" letter-spacing="0.3">25</text>
<path d="M352.49 316.45 V320.25" stroke="#000" stroke-width="1.2"/>
<text x="355.54" y="322.15" font-size="8.3" text-anchor="end" fill="#000" font-weight="bold" stroke="#000" stroke-width="0.5" transform="rotate(-90 355.54 322.15)" letter-spacing="0.3">30</text>
<path d="M359.93 316.45 V320.25" stroke="#000" stroke-width="1.2"/>
<text x="362.98" y="322.15" font-size="8.3" text-anchor="end" fill="#000" font-weight="bold" stroke="#000" stroke-width="0.5" transform="rotate(-90 362.98 322.15)" letter-spacing="0.3">35</text>
<path d="M367.36 316.45 V320.25" stroke="#000" stroke-width="1.2"/>
<text x="370.41" y="322.15" font-size="8.3" text-anchor="end" fill="#000" font-weight="bold" stroke="#000" stroke-width="0.5" transform="rotate(-90 370.41 322.15)" letter-spacing="0.3">40</text>
<path d="M374.79 316.45 V320.25" stroke="#000" stroke-width="1.2"/>
<text x="377.84" y="322.15" font-size="8.3" text-anchor="end" fill="#000" font-weight="bold" stroke="#000" stroke-width="0.5" transform="rotate(-90 377.84 322.15)" letter-spacing="0.3">45</text>
<path d="M382.22 316.45 V320.25" stroke="#000" stroke-width="1.2"/>
<text x="385.27" y="322.15" font-size="8.3" text-anchor="end" fill="#000" font-weight="bold" stroke="#000" stroke-width="0.5" transform="rotate(-90 385.27 322.15)" letter-spacing="0.3">50</text>
<path d="M389.65 316.45 V320.25" stroke="#000" stroke-width="1.2"/>
<text x="392.70" y="322.15" font-size="8.3" text-anchor="end" fill="#000" font-weight="bold" stroke="#000" stroke-width="0.5" transform="rotate(-90 392.70 322.15)" letter-spacing="0.3">55</text>
<path d="M397.09 316.45 V320.25" stroke="#000" stroke-width="1.2"/>
<text x="400.14" y="322.15" font-size="8.3" text-anchor="end" fill="#000" font-weight="bold" stroke="#000" stroke-width="0.5" transform="rotate(-90 400.14 322.15)" letter-spacing="0.3">60</text>
<path d="M404.52 316.45 V320.25" stroke="#000" stroke-width="1.2"/>
<text x="407.57" y="322.15" font-size="8.3" text-anchor="end" fill="#000" font-weight="bold" stroke="#000" stroke-width="0.5" transform="rotate(-90 407.57 322.15)" letter-spacing="0.3">65</text>
<path d="M411.95 316.45 V320.25" stroke="#000" stroke-width="1.2"/>
<text x="415.00" y="322.15" font-size="8.3" text-anchor="end" fill="#000" font-weight="bold" stroke="#000" stroke-width="0.5" transform="rotate(-90 415.00 322.15)" letter-spacing="0.3">70</text>
<path d="M419.38 316.45 V320.25" stroke="#000" stroke-width="1.2"/>
<text x="422.43" y="322.15" font-size="8.3" text-anchor="end" fill="#000" font-weight="bold" stroke="#000" stroke-width="0.5" transform="rotate(-90 422.43 322.15)" letter-spacing="0.3">75</text>
<path d="M426.81 316.45 V320.25" stroke="#000" stroke-width="1.2"/>
<text x="429.86" y="322.15" font-size="8.3" text-anchor="end" fill="#000" font-weight="bold" stroke="#000" stroke-width="0.5" transform="rotate(-90 429.86 322.15)" letter-spacing="0.3">80</text>
<path d="M434.25 316.45 V320.25" stroke="#000" stroke-width="1.2"/>
<text x="437.30" y="322.15" font-size="8.3" text-anchor="end" fill="#000" font-weight="bold" stroke="#000" stroke-width="0.5" transform="rotate(-90 437.30 322.15)" letter-spacing="0.3">85</text>
<path d="M441.68 316.45 V320.25" stroke="#000" stroke-width="1.2"/>
<text x="444.73" y="322.15" font-size="8.3" text-anchor="end" fill="#000" font-weight="bold" stroke="#000" stroke-width="0.5" transform="rotate(-90 444.73 322.15)" letter-spacing="0.3">90</text>
<path d="M449.11 316.45 V320.25" stroke="#000" stroke-width="1.2"/>
<text x="452.16" y="322.15" font-size="8.3" text-anchor="end" fill="#000" font-weight="bold" stroke="#000" stroke-width="0.5" transform="rotate(-90 452.16 322.15)" letter-spacing="0.3">95</text>
<path d="M456.54 316.45 V320.25" stroke="#000" stroke-width="1.2"/>
<text x="459.59" y="322.15" font-size="8.3" text-anchor="end" fill="#000" font-weight="bold" stroke="#000" stroke-width="0.5" transform="rotate(-90 459.59 322.15)" letter-spacing="0.3">100</text>
<path d="M463.97 316.45 V320.25" stroke="#000" stroke-width="1.2"/>
<text x="467.02" y="322.15" font-size="8.3" text-anchor="end" fill="#000" font-weight="bold" stroke="#000" stroke-width="0.5" transform="rotate(-90 467.02 322.15)" letter-spacing="0.3">105</text>
<path d="M471.41 316.45 V320.25" stroke="#000" stroke-width="1.2"/>
<text x="474.46" y="322.15" font-size="8.3" text-anchor="end" fill="#000" font-weight="bold" stroke="#000" stroke-width="0.5" transform="rotate(-90 474.46 322.15)" letter-spacing="0.3">110</text>
<path d="M478.84 316.45 V320.25" stroke="#000" stroke-width="1.2"/>
<text x="481.89" y="322.15" font-size="8.3" text-anchor="end" fill="#000" font-weight="bold" stroke="#000" stroke-width="0.5" transform="rotate(-90 481.89 322.15)" letter-spacing="0.3">115</text>
<path d="M486.27 316.45 V320.25" stroke="#000" stroke-width="1.2"/>
<text x="489.32" y="322.15" font-size="8.3" text-anchor="end" fill="#000" font-weight="bold" stroke="#000" stroke-width="0.5" transform="rotate(-90 489.32 322.15)" letter-spacing="0.3">120</text>
<polyline points="40.35,213.40 47.78,215.50 55.21,218.00 62.65,219.50 70.08,221.10 77.51,222.30 84.94,221.40 92.37,223.20 99.81,226.00 107.24,226.90 114.67,228.50 122.10,227.20 129.53,225.70 136.97,224.50 144.40,224.80 151.83,224.80 159.26,222.30 166.69,219.20 174.13,215.80 181.56,213.70 188.99,214.60 196.42,216.20 203.85,216.20 211.29,217.10 218.72,216.20 226.15,217.10 233.58,218.60 241.01,220.20 248.45,219.20 255.88,220.80 263.31,223.20 270.74,225.10 278.17,227.80 285.61,228.80 293.04,230.30 300.47,230.90 307.90,230.90 315.33,230.90 322.77,230.60 330.20,229.30 337.63,230.20 345.06,230.80 352.49,229.00 359.93,226.80 367.36,225.30 374.79,223.80 382.22,223.80 389.65,222.70 397.09,221.30 404.52,220.60 411.95,221.30 419.38,226.00 426.81,228.60 434.25,225.70 441.68,224.60 449.11,223.80 456.54,222.00 463.97,218.70 471.41,215.10 478.84,214.00 486.27,215.80" fill="none" stroke="#000" stroke-width="1.3"/>
<circle cx="40.35" cy="213.40" r="1.75" fill="#000"/>
<circle cx="47.78" cy="215.50" r="1.75" fill="#000"/>
<circle cx="55.21" cy="218.00" r="1.75" fill="#000"/>
<circle cx="62.65" cy="219.50" r="1.75" fill="#000"/>
<circle cx="70.08" cy="221.10" r="1.75" fill="#000"/>
<circle cx="77.51" cy="222.30" r="1.75" fill="#000"/>
<circle cx="84.94" cy="221.40" r="1.75" fill="#000"/>
<circle cx="92.37" cy="223.20" r="1.75" fill="#000"/>
<circle cx="99.81" cy="226.00" r="1.75" fill="#000"/>
<circle cx="107.24" cy="226.90" r="1.75" fill="#000"/>
<circle cx="114.67" cy="228.50" r="1.75" fill="#000"/>
<circle cx="122.10" cy="227.20" r="1.75" fill="#000"/>
<circle cx="129.53" cy="225.70" r="1.75" fill="#000"/>
<circle cx="136.97" cy="224.50" r="1.75" fill="#000"/>
<circle cx="144.40" cy="224.80" r="1.75" fill="#000"/>
<circle cx="151.83" cy="224.80" r="1.75" fill="#000"/>
<circle cx="159.26" cy="222.30" r="1.75" fill="#000"/>
<circle cx="166.69" cy="219.20" r="1.75" fill="#000"/>
<circle cx="174.13" cy="215.80" r="1.75" fill="#000"/>
<circle cx="181.56" cy="213.70" r="1.75" fill="#000"/>
<circle cx="188.99" cy="214.60" r="1.75" fill="#000"/>
<circle cx="196.42" cy="216.20" r="1.75" fill="#000"/>
<circle cx="203.85" cy="216.20" r="1.75" fill="#000"/>
<circle cx="211.29" cy="217.10" r="1.75" fill="#000"/>
<circle cx="218.72" cy="216.20" r="1.75" fill="#000"/>
<circle cx="226.15" cy="217.10" r="1.75" fill="#000"/>
<circle cx="233.58" cy="218.60" r="1.75" fill="#000"/>
<circle cx="241.01" cy="220.20" r="1.75" fill="#000"/>
<circle cx="248.45" cy="219.20" r="1.75" fill="#000"/>
<circle cx="255.88" cy="220.80" r="1.75" fill="#000"/>
<circle cx="263.31" cy="223.20" r="1.75" fill="#000"/>
<circle cx="270.74" cy="225.10" r="1.75" fill="#000"/>
<circle cx="278.17" cy="227.80" r="1.75" fill="#000"/>
<circle cx="285.61" cy="228.80" r="1.75" fill="#000"/>
<circle cx="293.04" cy="230.30" r="1.75" fill="#000"/>
<circle cx="300.47" cy="230.90" r="1.75" fill="#000"/>
<circle cx="307.90" cy="230.90" r="1.75" fill="#000"/>
<circle cx="315.33" cy="230.90" r="1.75" fill="#000"/>
<circle cx="322.77" cy="230.60" r="1.75" fill="#000"/>
<circle cx="330.20" cy="229.30" r="1.75" fill="#000"/>
<circle cx="337.63" cy="230.20" r="1.75" fill="#000"/>
<circle cx="345.06" cy="230.80" r="1.75" fill="#000"/>
<circle cx="352.49" cy="229.00" r="1.75" fill="#000"/>
<circle cx="359.93" cy="226.80" r="1.75" fill="#000"/>
<circle cx="367.36" cy="225.30" r="1.75" fill="#000"/>
<circle cx="374.79" cy="223.80" r="1.75" fill="#000"/>
<circle cx="382.22" cy="223.80" r="1.75" fill="#000"/>
<circle cx="389.65" cy="222.70" r="1.75" fill="#000"/>
<circle cx="397.09" cy="221.30" r="1.75" fill="#000"/>
<circle cx="404.52" cy="220.60" r="1.75" fill="#000"/>
<circle cx="411.95" cy="221.30" r="1.75" fill="#000"/>
<circle cx="419.38" cy="226.00" r="1.75" fill="#000"/>
<circle cx="426.81" cy="228.60" r="1.75" fill="#000"/>
<circle cx="434.25" cy="225.70" r="1.75" fill="#000"/>
<circle cx="441.68" cy="224.60" r="1.75" fill="#000"/>
<circle cx="449.11" cy="223.80" r="1.75" fill="#000"/>
<circle cx="456.54" cy="222.00" r="1.75" fill="#000"/>
<circle cx="463.97" cy="218.70" r="1.75" fill="#000"/>
<circle cx="471.41" cy="215.10" r="1.75" fill="#000"/>
<circle cx="478.84" cy="214.00" r="1.75" fill="#000"/>
<circle cx="486.27" cy="215.80" r="1.75" fill="#000"/>
<text x="266.50" y="189.40" font-size="9.8" text-anchor="middle" fill="#000" font-weight="bold" stroke="#000" stroke-width="0.5">Comparison Day</text>
<text x="14.20" y="260.10" font-size="9.7" text-anchor="middle" fill="#000" stroke="#000" stroke-width="0.48" transform="rotate(-90 14.20 260.10)">Delta cISF-Glucose</text>
<text x="9.20" y="181.20" font-size="24.5" text-anchor="middle" fill="#000" font-weight="bold" stroke="#000" stroke-width="0.5">B</text>
<path d="M129.53 234.20 L132.63 241.00 L130.58 240.20 L130.58 246.40 L128.48 246.40 L128.48 240.20 L126.43 241.00 Z" fill="#000"/>
<path d="M307.90 239.60 L311.00 246.40 L308.95 245.60 L308.95 251.20 L306.85 251.20 L306.85 245.60 L304.80 246.40 Z" fill="#000"/>
<path d="M486.27 224.20 L489.37 231.00 L487.32 230.20 L487.32 236.00 L485.22 236.00 L485.22 230.20 L483.17 231.00 Z" fill="#000"/>
<text x="129.50" y="265.40" font-size="9.7" text-anchor="middle" fill="#000" stroke="#000" stroke-width="0.48">Completion Breakfast</text>
<text x="309.00" y="270.40" font-size="9.7" text-anchor="middle" fill="#000" stroke="#000" stroke-width="0.48">Equivalent</text>
<text x="309.00" y="280.80" font-size="9.7" text-anchor="middle" fill="#000" stroke="#000" stroke-width="0.48">Timepoint Start</text>
<text x="309.30" y="292.00" font-size="9.7" text-anchor="middle" fill="#000" stroke="#000" stroke-width="0.48">Driving Course</text>
<text x="487.50" y="254.90" font-size="9.7" text-anchor="middle" fill="#000" stroke="#000" stroke-width="0.48">Equivalent</text>
<text x="487.50" y="265.90" font-size="9.7" text-anchor="middle" fill="#000" stroke="#000" stroke-width="0.48">Timepoint End</text>
<text x="488.00" y="276.90" font-size="9.7" text-anchor="middle" fill="#000" stroke="#000" stroke-width="0.48">Driving Course</text>
</g>
<g id="panelC">
<text x="9.60" y="375.00" font-size="24.5" text-anchor="middle" fill="#000" font-weight="bold" stroke="#000" stroke-width="0.5">C</text>
<text x="137.70" y="368.40" font-size="9.8" text-anchor="middle" fill="#000" font-weight="bold" stroke="#000" stroke-width="0.5">Comparative Glucose Analysis</text>
<path d="M36.5 392.15 V530.0 H242.5" fill="none" stroke="#000" stroke-width="1.3"/>
<path d="M32.9 530.00 H36.5" stroke="#000" stroke-width="1.2"/>
<text x="31.90" y="533.00" font-size="8.5" text-anchor="end" fill="#000" font-weight="bold" stroke="#000" stroke-width="0.5">0</text>
<path d="M32.9 484.25 H36.5" stroke="#000" stroke-width="1.2"/>
<text x="31.90" y="487.25" font-size="8.5" text-anchor="end" fill="#000" font-weight="bold" stroke="#000" stroke-width="0.5">5</text>
<path d="M32.9 438.50 H36.5" stroke="#000" stroke-width="1.2"/>
<text x="31.90" y="441.50" font-size="8.5" text-anchor="end" fill="#000" font-weight="bold" stroke="#000" stroke-width="0.5">10</text>
<path d="M32.9 392.75 H36.5" stroke="#000" stroke-width="1.2"/>
<text x="31.90" y="395.75" font-size="8.5" text-anchor="end" fill="#000" font-weight="bold" stroke="#000" stroke-width="0.5">15</text>
<text x="16.60" y="462.30" font-size="9.5" text-anchor="middle" fill="#000" stroke="#000" stroke-width="0.48" transform="rotate(-90 16.60 462.30)">Glucose in mmol/L</text>
<path d="M51.5 444.5 V438.5 M46.5 438.5 H56.5" stroke="#000" stroke-width="1.5" fill="none"/>
<rect x="41.5" y="444.5" width="20" height="85.50" fill="#fff" stroke="#000" stroke-width="1.5"/>
<path d="M110.5 453 V445.8 M105.5 445.8 H115.5" stroke="#000" stroke-width="1.5" fill="none"/>
<rect x="100.5" y="453" width="20" height="77.00" fill="#888888" stroke="#000" stroke-width="1.5"/>
<path d="M169.25 444.3 V437.5 M164.25 437.5 H174.25" stroke="#000" stroke-width="1.5" fill="none"/>
<rect x="159.25" y="444.3" width="20" height="85.70" fill="#fff" stroke="#000" stroke-width="1.5"/>
<path d="M198.75 440.8 V433.3 M193.75 433.3 H203.75" stroke="#000" stroke-width="1.5" fill="none"/>
<rect x="188.75" y="440.8" width="20" height="89.20" fill="#d2d2d2" stroke="#000" stroke-width="1.5"/>
<path d="M228.25 452 V445.8 M223.25 445.8 H233.25" stroke="#000" stroke-width="1.5" fill="none"/>
<rect x="218.25" y="452" width="20" height="78.00" fill="#888888" stroke="#000" stroke-width="1.5"/>
<path d="M51.5 530.0 V533.6" stroke="#000" stroke-width="1.2"/>
<text x="51.50" y="543.60" font-size="8.4" text-anchor="middle" fill="#000" font-weight="bold" stroke="#000" stroke-width="0.5">0min</text>
<path d="M81 530.0 V533.6" stroke="#000" stroke-width="1.2"/>
<text x="81.00" y="543.60" font-size="8.4" text-anchor="middle" fill="#000" font-weight="bold" stroke="#000" stroke-width="0.5">n.d.</text>
<path d="M110.5 530.0 V533.6" stroke="#000" stroke-width="1.2"/>
<text x="110.50" y="543.60" font-size="8.4" text-anchor="middle" fill="#000" font-weight="bold" stroke="#000" stroke-width="0.5">120min</text>
<path d="M140 530.0 V533.6" stroke="#000" stroke-width="1.2"/>
<text x="140.00" y="543.60" font-size="8.4" text-anchor="middle" fill="#000" font-weight="bold" stroke="#000" stroke-width="0.5">.</text>
<path d="M169.25 530.0 V533.6" stroke="#000" stroke-width="1.2"/>
<text x="169.25" y="543.60" font-size="8.4" text-anchor="middle" fill="#000" font-weight="bold" stroke="#000" stroke-width="0.5">0min</text>
<path d="M198.75 530.0 V533.6" stroke="#000" stroke-width="1.2"/>
<text x="198.75" y="543.60" font-size="8.4" text-anchor="middle" fill="#000" font-weight="bold" stroke="#000" stroke-width="0.5">35min</text>
<path d="M228.25 530.0 V533.6" stroke="#000" stroke-width="1.2"/>
<text x="228.25" y="543.60" font-size="8.4" text-anchor="middle" fill="#000" font-weight="bold" stroke="#000" stroke-width="0.5">120min</text>
<text x="81.30" y="554.70" font-size="9.7" text-anchor="middle" fill="#000" stroke="#000" stroke-width="0.48">Capillary</text>
<text x="81.30" y="565.70" font-size="9.7" text-anchor="middle" fill="#000" stroke="#000" stroke-width="0.48">Measurement</text>
<text x="198.75" y="555.90" font-size="9.7" text-anchor="middle" fill="#000" stroke="#000" stroke-width="0.48">CGMS</text>
<text x="198.75" y="566.90" font-size="9.7" text-anchor="middle" fill="#000" stroke="#000" stroke-width="0.48">(cISF-Glucose)</text>
<path d="M51 402.5 V399.5 H110.3 V402.5" fill="none" stroke="#000" stroke-width="1.35"/>
<text x="80.60" y="394.00" font-size="9.6" text-anchor="middle" fill="#000" font-weight="bold" stroke="#000" stroke-width="0.5">p = 0.098</text>
<path d="M169.2 403.0 V400 H228.3 V403.0" fill="none" stroke="#000" stroke-width="1.35"/>
<text x="198.90" y="394.60" font-size="9.6" text-anchor="middle" fill="#000" font-weight="bold" stroke="#000" stroke-width="0.5">p = 0.047</text>
<path d="M168 430.5 V427.5 H198 V430.5" fill="none" stroke="#000" stroke-width="1.35"/>
<path d="M199.5 430.5 V427.5 H228.2 V430.5" fill="none" stroke="#000" stroke-width="1.35"/>
<text x="177.80" y="421.00" font-size="9.6" text-anchor="middle" fill="#000" font-weight="bold" stroke="#000" stroke-width="0.5">p &lt; 0.01</text>
<text x="224.00" y="421.00" font-size="9.6" text-anchor="middle" fill="#000" font-weight="bold" stroke="#000" stroke-width="0.5">p = 0.013</text>
</g>
<g id="panelD">
<text x="304.20" y="373.90" font-size="24.5" text-anchor="middle" fill="#000" font-weight="bold" stroke="#000" stroke-width="0.5">D</text>
<text x="396.00" y="369.30" font-size="9.8" text-anchor="middle" fill="#000" font-weight="bold" stroke="#000" stroke-width="0.5">Correlation of cISF-</text>
<text x="396.00" y="379.30" font-size="9.8" text-anchor="middle" fill="#000" font-weight="bold" stroke="#000" stroke-width="0.5">and Capillary Glucose</text>
<path d="M332.2 395.05 V530.4 H462.30" fill="none" stroke="#000" stroke-width="1.3"/>
<path d="M328.4 530.40 H332.2" stroke="#000" stroke-width="1.2"/>
<text x="327.40" y="533.40" font-size="8.5" text-anchor="end" fill="#000" font-weight="bold" stroke="#000" stroke-width="0.5">0</text>
<path d="M332.20 530.4 V534.0" stroke="#000" stroke-width="1.2"/>
<text x="332.20" y="544.20" font-size="8.5" text-anchor="middle" fill="#000" font-weight="bold" stroke="#000" stroke-width="0.5">0</text>
<path d="M328.4 503.45 H332.2" stroke="#000" stroke-width="1.2"/>
<text x="327.40" y="506.45" font-size="8.5" text-anchor="end" fill="#000" font-weight="bold" stroke="#000" stroke-width="0.5">5</text>
<path d="M358.10 530.4 V534.0" stroke="#000" stroke-width="1.2"/>
<text x="358.10" y="544.20" font-size="8.5" text-anchor="middle" fill="#000" font-weight="bold" stroke="#000" stroke-width="0.5">5</text>
<path d="M328.4 476.50 H332.2" stroke="#000" stroke-width="1.2"/>
<text x="327.40" y="479.50" font-size="8.5" text-anchor="end" fill="#000" font-weight="bold" stroke="#000" stroke-width="0.5">10</text>
<path d="M384.00 530.4 V534.0" stroke="#000" stroke-width="1.2"/>
<text x="384.00" y="544.20" font-size="8.5" text-anchor="middle" fill="#000" font-weight="bold" stroke="#000" stroke-width="0.5">10</text>
<path d="M328.4 449.55 H332.2" stroke="#000" stroke-width="1.2"/>
<text x="327.40" y="452.55" font-size="8.5" text-anchor="end" fill="#000" font-weight="bold" stroke="#000" stroke-width="0.5">15</text>
<path d="M409.90 530.4 V534.0" stroke="#000" stroke-width="1.2"/>
<text x="409.90" y="544.20" font-size="8.5" text-anchor="middle" fill="#000" font-weight="bold" stroke="#000" stroke-width="0.5">15</text>
<path d="M328.4 422.60 H332.2" stroke="#000" stroke-width="1.2"/>
<text x="327.40" y="425.60" font-size="8.5" text-anchor="end" fill="#000" font-weight="bold" stroke="#000" stroke-width="0.5">20</text>
<path d="M435.80 530.4 V534.0" stroke="#000" stroke-width="1.2"/>
<text x="435.80" y="544.20" font-size="8.5" text-anchor="middle" fill="#000" font-weight="bold" stroke="#000" stroke-width="0.5">20</text>
<path d="M328.4 395.65 H332.2" stroke="#000" stroke-width="1.2"/>
<text x="327.40" y="398.65" font-size="8.5" text-anchor="end" fill="#000" font-weight="bold" stroke="#000" stroke-width="0.5">25</text>
<path d="M461.70 530.4 V534.0" stroke="#000" stroke-width="1.2"/>
<text x="461.70" y="544.20" font-size="8.5" text-anchor="middle" fill="#000" font-weight="bold" stroke="#000" stroke-width="0.5">25</text>
<text x="309.10" y="462.80" font-size="9.7" text-anchor="middle" fill="#000" stroke="#000" stroke-width="0.48" transform="rotate(-90 309.10 462.80)">Capillary Blood Glucose (mmol/L)</text>
<text x="396.50" y="559.20" font-size="9.7" text-anchor="middle" fill="#000" stroke="#000" stroke-width="0.48">cISF-Glucose (mmol/L)</text>
<path d="M336.9 530.2 L447.7 395.4" stroke="#000" stroke-width="1.2"/>
<circle cx="361.25" cy="501.15" r="2.1" fill="#000"/>
<circle cx="363.17" cy="498.75" r="2.1" fill="#000"/>
<circle cx="365.10" cy="496.35" r="2.1" fill="#000"/>
<circle cx="367.02" cy="493.46" r="2.1" fill="#000"/>
<circle cx="364.13" cy="495.38" r="2.1" fill="#000"/>
<circle cx="368.46" cy="494.42" r="2.1" fill="#000"/>
<circle cx="366.06" cy="497.79" r="2.1" fill="#000"/>
<circle cx="362.21" cy="499.71" r="2.1" fill="#000"/>
<circle cx="360.29" cy="502.60" r="2.1" fill="#000"/>
<circle cx="364.62" cy="500.19" r="2.1" fill="#000"/>
<circle cx="367.50" cy="495.87" r="2.1" fill="#000"/>
<circle cx="369.42" cy="492.02" r="2.1" fill="#000"/>
<circle cx="370.38" cy="482.88" r="2.1" fill="#000"/>
<circle cx="372.31" cy="480.48" r="2.1" fill="#000"/>
<circle cx="374.23" cy="486.73" r="2.1" fill="#000"/>
<circle cx="371.35" cy="487.69" r="2.1" fill="#000"/>
<circle cx="375.67" cy="479.04" r="2.1" fill="#000"/>
<circle cx="377.60" cy="478.08" r="2.1" fill="#000"/>
<circle cx="380.00" cy="474.23" r="2.1" fill="#000"/>
<circle cx="380.96" cy="472.31" r="2.1" fill="#000"/>
<circle cx="379.04" cy="480.00" r="2.1" fill="#000"/>
<circle cx="373.75" cy="484.33" r="2.1" fill="#000"/>
<circle cx="372.79" cy="488.65" r="2.1" fill="#000"/>
<circle cx="369.42" cy="485.77" r="2.1" fill="#000"/>
<circle cx="370.38" cy="490.10" r="2.1" fill="#000"/>
<circle cx="376.15" cy="482.40" r="2.1" fill="#000"/>
<circle cx="378.08" cy="475.67" r="2.1" fill="#000"/>
<circle cx="383.85" cy="484.33" r="2.1" fill="#000"/>
<circle cx="382.40" cy="486.73" r="2.1" fill="#000"/>
<circle cx="388.17" cy="473.75" r="2.1" fill="#000"/>
<circle cx="388.46" cy="476.63" r="2.1" fill="#000"/>
<circle cx="394.42" cy="472.12" r="2.1" fill="#000"/>
<circle cx="382.88" cy="461.73" r="2.1" fill="#000"/>
<circle cx="381.44" cy="465.58" r="2.1" fill="#000"/>
<circle cx="383.37" cy="467.50" r="2.1" fill="#000"/>
<circle cx="384.81" cy="469.42" r="2.1" fill="#000"/>
<circle cx="387.69" cy="461.25" r="2.1" fill="#000"/>
<circle cx="390.58" cy="459.33" r="2.1" fill="#000"/>
<circle cx="392.02" cy="461.73" r="2.1" fill="#000"/>
<circle cx="388.65" cy="466.06" r="2.1" fill="#000"/>
<circle cx="393.46" cy="464.62" r="2.1" fill="#000"/>
<circle cx="396.35" cy="458.85" r="2.1" fill="#000"/>
<circle cx="399.23" cy="460.77" r="2.1" fill="#000"/>
<circle cx="397.31" cy="466.06" r="2.1" fill="#000"/>
<circle cx="401.15" cy="457.88" r="2.1" fill="#000"/>
<circle cx="402.12" cy="465.58" r="2.1" fill="#000"/>
<circle cx="403.08" cy="459.81" r="2.1" fill="#000"/>
<circle cx="394.42" cy="456.92" r="2.1" fill="#000"/>
<circle cx="386.73" cy="468.46" r="2.1" fill="#000"/>
<circle cx="391.06" cy="467.98" r="2.1" fill="#000"/>
<circle cx="381.92" cy="469.42" r="2.1" fill="#000"/>
<circle cx="398.75" cy="464.13" r="2.1" fill="#000"/>
<circle cx="404.04" cy="463.17" r="2.1" fill="#000"/>
<circle cx="406.15" cy="421.06" r="2.1" fill="#000"/>
<circle cx="405.67" cy="430.67" r="2.1" fill="#000"/>
<circle cx="421.54" cy="421.54" r="2.1" fill="#000"/>
<circle cx="418.65" cy="427.31" r="2.1" fill="#000"/>
<circle cx="420.58" cy="426.35" r="2.1" fill="#000"/>
<circle cx="420.10" cy="430.67" r="2.1" fill="#000"/>
<circle cx="416.73" cy="432.12" r="2.1" fill="#000"/>
<circle cx="418.17" cy="434.04" r="2.1" fill="#000"/>
<circle cx="417.21" cy="437.88" r="2.1" fill="#000"/>
<circle cx="413.85" cy="435.00" r="2.1" fill="#000"/>
<circle cx="410.96" cy="435.48" r="2.1" fill="#000"/>
<circle cx="409.04" cy="437.88" r="2.1" fill="#000"/>
<circle cx="411.92" cy="439.81" r="2.1" fill="#000"/>
<circle cx="403.27" cy="439.81" r="2.1" fill="#000"/>
<circle cx="405.67" cy="441.73" r="2.1" fill="#000"/>
<circle cx="408.08" cy="442.69" r="2.1" fill="#000"/>
<circle cx="412.88" cy="443.65" r="2.1" fill="#000"/>
<circle cx="410.96" cy="446.54" r="2.1" fill="#000"/>
<circle cx="407.12" cy="447.02" r="2.1" fill="#000"/>
<circle cx="396.54" cy="445.10" r="2.1" fill="#000"/>
<circle cx="395.10" cy="447.98" r="2.1" fill="#000"/>
<circle cx="393.17" cy="450.38" r="2.1" fill="#000"/>
<circle cx="394.13" cy="453.75" r="2.1" fill="#000"/>
<circle cx="397.02" cy="456.63" r="2.1" fill="#000"/>
<circle cx="402.31" cy="448.46" r="2.1" fill="#000"/>
<circle cx="404.23" cy="452.31" r="2.1" fill="#000"/>
<circle cx="406.63" cy="453.27" r="2.1" fill="#000"/>
<circle cx="405.67" cy="457.12" r="2.1" fill="#000"/>
<circle cx="401.83" cy="458.08" r="2.1" fill="#000"/>
<circle cx="400.38" cy="445.58" r="2.1" fill="#000"/>
<circle cx="391.25" cy="458.08" r="2.1" fill="#000"/>
<circle cx="409.04" cy="449.42" r="2.1" fill="#000"/>
<circle cx="403.75" cy="444.62" r="2.1" fill="#000"/>
<circle cx="414.81" cy="438.85" r="2.1" fill="#000"/>
<circle cx="415.77" cy="441.73" r="2.1" fill="#000"/>
<circle cx="422.98" cy="424.42" r="2.1" fill="#000"/>
<circle cx="383.06" cy="461.81" r="2.1" fill="#000"/>
<circle cx="381.62" cy="465.65" r="2.1" fill="#000"/>
<circle cx="384.02" cy="469.02" r="2.1" fill="#000"/>
<circle cx="387.38" cy="460.85" r="2.1" fill="#000"/>
<circle cx="388.83" cy="464.69" r="2.1" fill="#000"/>
<circle cx="391.23" cy="458.92" r="2.1" fill="#000"/>
<circle cx="392.67" cy="462.77" r="2.1" fill="#000"/>
<circle cx="395.08" cy="460.85" r="2.1" fill="#000"/>
<circle cx="397.00" cy="464.69" r="2.1" fill="#000"/>
<circle cx="399.88" cy="462.77" r="2.1" fill="#000"/>
<circle cx="401.81" cy="465.65" r="2.1" fill="#000"/>
<circle cx="404.21" cy="462.77" r="2.1" fill="#000"/>
<circle cx="400.85" cy="458.92" r="2.1" fill="#000"/>
<circle cx="403.73" cy="457.96" r="2.1" fill="#000"/>
<circle cx="405.65" cy="455.08" r="2.1" fill="#000"/>
<circle cx="407.10" cy="452.19" r="2.1" fill="#000"/>
<circle cx="404.69" cy="449.31" r="2.1" fill="#000"/>
<circle cx="401.81" cy="447.38" r="2.1" fill="#000"/>
<circle cx="396.04" cy="444.50" r="2.1" fill="#000"/>
<circle cx="393.63" cy="449.79" r="2.1" fill="#000"/>
<circle cx="395.08" cy="453.63" r="2.1" fill="#000"/>
<circle cx="397.96" cy="456.04" r="2.1" fill="#000"/>
<circle cx="399.88" cy="444.98" r="2.1" fill="#000"/>
<circle cx="403.73" cy="439.21" r="2.1" fill="#000"/>
<circle cx="406.62" cy="441.62" r="2.1" fill="#000"/>
<circle cx="409.02" cy="444.50" r="2.1" fill="#000"/>
<circle cx="410.46" cy="440.65" r="2.1" fill="#000"/>
<circle cx="412.38" cy="437.77" r="2.1" fill="#000"/>
<circle cx="414.31" cy="441.62" r="2.1" fill="#000"/>
<circle cx="415.27" cy="435.85" r="2.1" fill="#000"/>
<circle cx="418.15" cy="434.88" r="2.1" fill="#000"/>
<circle cx="417.19" cy="438.73" r="2.1" fill="#000"/>
<circle cx="411.42" cy="434.88" r="2.1" fill="#000"/>
<circle cx="408.54" cy="437.77" r="2.1" fill="#000"/>
<circle cx="405.65" cy="446.42" r="2.1" fill="#000"/>
<circle cx="402.77" cy="453.15" r="2.1" fill="#000"/>
<circle cx="396.52" cy="448.35" r="2.1" fill="#000"/>
<circle cx="394.60" cy="471.90" r="2.1" fill="#000"/>
<circle cx="387.87" cy="473.35" r="2.1" fill="#000"/>
<circle cx="387.87" cy="476.23" r="2.1" fill="#000"/>
<circle cx="380.17" cy="473.35" r="2.1" fill="#000"/>
<circle cx="377.29" cy="476.23" r="2.1" fill="#000"/>
<circle cx="378.73" cy="479.12" r="2.1" fill="#000"/>
<circle cx="374.88" cy="479.12" r="2.1" fill="#000"/>
<circle cx="381.62" cy="477.19" r="2.1" fill="#000"/>
<circle cx="362.46" cy="500.03" r="2.1" fill="#000"/>
<circle cx="363.85" cy="496.92" r="2.1" fill="#000"/>
<circle cx="365.58" cy="494.84" r="2.1" fill="#000"/>
<circle cx="367.31" cy="496.05" r="2.1" fill="#000"/>
<circle cx="364.71" cy="498.65" r="2.1" fill="#000"/>
<circle cx="368.17" cy="493.46" r="2.1" fill="#000"/>
<circle cx="366.44" cy="497.27" r="2.1" fill="#000"/>
<circle cx="369.04" cy="491.73" r="2.1" fill="#000"/>
<circle cx="363.50" cy="499.00" r="2.1" fill="#000"/>
<circle cx="365.92" cy="496.23" r="2.1" fill="#000"/>
<circle cx="361.42" cy="501.07" r="2.1" fill="#000"/>
<circle cx="365.23" cy="493.46" r="2.1" fill="#000"/>
<circle cx="370.77" cy="486.54" r="2.1" fill="#000"/>
<circle cx="372.50" cy="481.34" r="2.1" fill="#000"/>
<circle cx="371.63" cy="483.94" r="2.1" fill="#000"/>
<circle cx="374.23" cy="484.80" r="2.1" fill="#000"/>
<circle cx="373.36" cy="488.27" r="2.1" fill="#000"/>
<circle cx="369.90" cy="490.00" r="2.1" fill="#000"/>
<circle cx="375.10" cy="480.48" r="2.1" fill="#000"/>
<circle cx="375.96" cy="483.07" r="2.1" fill="#000"/>
<circle cx="372.15" cy="485.67" r="2.1" fill="#000"/>
<circle cx="370.42" cy="487.92" r="2.1" fill="#000"/>
<circle cx="369.38" cy="485.15" r="2.1" fill="#000"/>
<circle cx="373.88" cy="482.73" r="2.1" fill="#000"/>
<circle cx="397.59" cy="451.06" r="2.1" fill="#000"/>
<circle cx="399.33" cy="451.92" r="2.1" fill="#000"/>
<circle cx="384.61" cy="466.63" r="2.1" fill="#000"/>
<circle cx="387.21" cy="464.04" r="2.1" fill="#000"/>
<circle cx="395.34" cy="451.92" r="2.1" fill="#000"/>
<circle cx="400.19" cy="448.46" r="2.1" fill="#000"/>
<circle cx="385.48" cy="464.90" r="2.1" fill="#000"/>
<circle cx="389.81" cy="463.17" r="2.1" fill="#000"/>
<circle cx="398.46" cy="450.19" r="2.1" fill="#000"/>
<circle cx="396.38" cy="453.65" r="2.1" fill="#000"/>
<circle cx="401.92" cy="457.11" r="2.1" fill="#000"/>
<circle cx="403.65" cy="459.71" r="2.1" fill="#000"/>
<circle cx="393.27" cy="461.44" r="2.1" fill="#000"/>
<circle cx="391.54" cy="458.84" r="2.1" fill="#000"/>
</g>
<g id="panelE">
<path d="M36.5 613.70 V724.2 H201.50" fill="none" stroke="#000" stroke-width="1.3"/>
<path d="M32.7 724.20 H36.5" stroke="#000" stroke-width="1.2"/>
<text x="31.60" y="727.00" font-size="8.5" text-anchor="end" fill="#000" font-weight="bold" stroke="#000" stroke-width="0.5">0</text>
<path d="M32.7 696.73 H36.5" stroke="#000" stroke-width="1.2"/>
<text x="31.60" y="699.52" font-size="8.5" text-anchor="end" fill="#000" font-weight="bold" stroke="#000" stroke-width="0.5">5</text>
<path d="M32.7 669.25 H36.5" stroke="#000" stroke-width="1.2"/>
<text x="31.60" y="672.05" font-size="8.5" text-anchor="end" fill="#000" font-weight="bold" stroke="#000" stroke-width="0.5">10</text>
<path d="M32.7 641.77 H36.5" stroke="#000" stroke-width="1.2"/>
<text x="31.60" y="644.57" font-size="8.5" text-anchor="end" fill="#000" font-weight="bold" stroke="#000" stroke-width="0.5">15</text>
<path d="M32.7 614.30 H36.5" stroke="#000" stroke-width="1.2"/>
<text x="31.60" y="617.10" font-size="8.5" text-anchor="end" fill="#000" font-weight="bold" stroke="#000" stroke-width="0.5">20</text>
<path d="M36.50 724.2 V727.8000000000001" stroke="#000" stroke-width="1.2"/>
<text x="36.50" y="737.70" font-size="8.5" text-anchor="middle" fill="#000" font-weight="bold" stroke="#000" stroke-width="0.5">0</text>
<path d="M77.60 724.2 V727.8000000000001" stroke="#000" stroke-width="1.2"/>
<text x="77.60" y="737.70" font-size="8.5" text-anchor="middle" fill="#000" font-weight="bold" stroke="#000" stroke-width="0.5">50</text>
<path d="M118.70 724.2 V727.8000000000001" stroke="#000" stroke-width="1.2"/>
<text x="118.70" y="737.70" font-size="8.5" text-anchor="middle" fill="#000" font-weight="bold" stroke="#000" stroke-width="0.5">100</text>
<path d="M159.80 724.2 V727.8000000000001" stroke="#000" stroke-width="1.2"/>
<text x="159.80" y="737.70" font-size="8.5" text-anchor="middle" fill="#000" font-weight="bold" stroke="#000" stroke-width="0.5">150</text>
<path d="M200.90 724.2 V727.8000000000001" stroke="#000" stroke-width="1.2"/>
<text x="200.90" y="737.70" font-size="8.5" text-anchor="middle" fill="#000" font-weight="bold" stroke="#000" stroke-width="0.5">200</text>
<text x="8.20" y="604.20" font-size="24.5" text-anchor="middle" fill="#000" font-weight="bold" stroke="#000" stroke-width="0.5">E</text>
<text x="117.40" y="590.20" font-size="9.8" text-anchor="middle" fill="#000" font-weight="bold" stroke="#000" stroke-width="0.5">Capillary and ISF-Glucose</text>
<text x="15.40" y="667.75" font-size="9.7" text-anchor="middle" fill="#000" stroke="#000" stroke-width="0.48" transform="rotate(-90 15.40 667.75)">Glucose in mmol/L</text>
<text x="118.80" y="751.80" font-size="9.7" text-anchor="middle" fill="#000" stroke="#000" stroke-width="0.48">Time in Minutes</text>
<polyline points="36.50,681.70 44.72,675.40 52.94,669.60 61.16,663.80 69.38,654.80 77.60,649.40 85.82,645.60 98.15,638.50 110.48,636.90 122.81,637.90 135.14,643.10 159.80,644.60 184.46,649.60" fill="none" stroke="#000" stroke-width="1.3" stroke-linejoin="round"/>
<polyline points="36.50,681.70 40.61,682.00 44.72,682.10 48.83,681.70 52.94,680.40 57.05,678.50 61.16,675.80 69.38,669.20 77.60,662.70 85.82,656.90 94.04,652.70 102.26,649.60 110.48,647.70 118.70,646.90 126.92,646.90 135.14,647.70 143.36,648.50 151.58,649.60 159.80,650.80 168.02,652.20 176.24,653.60 184.46,655.00" fill="none" stroke="#000" stroke-width="1.3" stroke-linejoin="round"/>
<circle cx="110.48" cy="647.70" r="0.95" fill="#000"/>
<circle cx="118.70" cy="646.90" r="0.95" fill="#000"/>
<circle cx="126.92" cy="646.90" r="0.95" fill="#000"/>
<circle cx="135.14" cy="647.70" r="0.95" fill="#000"/>
<circle cx="143.36" cy="648.50" r="0.95" fill="#000"/>
<circle cx="151.58" cy="649.60" r="0.95" fill="#000"/>
<circle cx="159.80" cy="650.80" r="0.95" fill="#000"/>
<circle cx="168.02" cy="652.20" r="0.95" fill="#000"/>
<circle cx="176.24" cy="653.60" r="0.95" fill="#000"/>
<circle cx="184.46" cy="655.00" r="0.95" fill="#000"/>
<path d="M110.40 632.80 L113.40 626.00 L111.25 626.70 L111.25 623.80 L109.55 623.80 L109.55 626.70 L107.40 626.00 Z" fill="#000"/>
<path d="M123.10 652.70 L126.10 659.50 L123.95 658.80 L123.95 661.00 L122.25 661.00 L122.25 658.80 L120.10 659.50 Z" fill="#000"/>
<path d="M101.5 700.1 H116.2" stroke="#000" stroke-width="1.5"/>
<circle cx="108.85" cy="700.1" r="0.9" fill="#000"/>
<path d="M101.5 712.9 H116.2" stroke="#000" stroke-width="1.5"/>
<circle cx="108.85" cy="712.9" r="1.1" fill="#000"/>
<text x="124.40" y="703.60" font-size="9.85" text-anchor="start" fill="#000" stroke="#000" stroke-width="0.48">Capillary Glucose</text>
<text x="124.40" y="716.30" font-size="9.85" text-anchor="start" fill="#000" stroke="#000" stroke-width="0.48">ISF-Glucose</text>
</g>
<g id="panelF">
<path d="M331.9 614.30 V724.3 H496.90" fill="none" stroke="#000" stroke-width="1.3"/>
<path d="M328.09999999999997 724.30 H331.9" stroke="#000" stroke-width="1.2"/>
<text x="327.00" y="727.10" font-size="8.5" text-anchor="end" fill="#000" font-weight="bold" stroke="#000" stroke-width="0.5">0</text>
<path d="M328.09999999999997 696.95 H331.9" stroke="#000" stroke-width="1.2"/>
<text x="327.00" y="699.75" font-size="8.5" text-anchor="end" fill="#000" font-weight="bold" stroke="#000" stroke-width="0.5">5</text>
<path d="M328.09999999999997 669.60 H331.9" stroke="#000" stroke-width="1.2"/>
<text x="327.00" y="672.40" font-size="8.5" text-anchor="end" fill="#000" font-weight="bold" stroke="#000" stroke-width="0.5">10</text>
<path d="M328.09999999999997 642.25 H331.9" stroke="#000" stroke-width="1.2"/>
<text x="327.00" y="645.05" font-size="8.5" text-anchor="end" fill="#000" font-weight="bold" stroke="#000" stroke-width="0.5">15</text>
<path d="M328.09999999999997 614.90 H331.9" stroke="#000" stroke-width="1.2"/>
<text x="327.00" y="617.70" font-size="8.5" text-anchor="end" fill="#000" font-weight="bold" stroke="#000" stroke-width="0.5">20</text>
<path d="M331.90 724.3 V727.9" stroke="#000" stroke-width="1.2"/>
<text x="331.90" y="737.80" font-size="8.5" text-anchor="middle" fill="#000" font-weight="bold" stroke="#000" stroke-width="0.5">0</text>
<path d="M373.00 724.3 V727.9" stroke="#000" stroke-width="1.2"/>
<text x="373.00" y="737.80" font-size="8.5" text-anchor="middle" fill="#000" font-weight="bold" stroke="#000" stroke-width="0.5">50</text>
<path d="M414.10 724.3 V727.9" stroke="#000" stroke-width="1.2"/>
<text x="414.10" y="737.80" font-size="8.5" text-anchor="middle" fill="#000" font-weight="bold" stroke="#000" stroke-width="0.5">100</text>
<path d="M455.20 724.3 V727.9" stroke="#000" stroke-width="1.2"/>
<text x="455.20" y="737.80" font-size="8.5" text-anchor="middle" fill="#000" font-weight="bold" stroke="#000" stroke-width="0.5">150</text>
<path d="M496.30 724.3 V727.9" stroke="#000" stroke-width="1.2"/>
<text x="496.30" y="737.80" font-size="8.5" text-anchor="middle" fill="#000" font-weight="bold" stroke="#000" stroke-width="0.5">200</text>
<text x="302.80" y="605.10" font-size="24.5" text-anchor="middle" fill="#000" font-weight="bold" stroke="#000" stroke-width="0.5">F</text>
<text x="413.30" y="590.90" font-size="9.8" text-anchor="middle" fill="#000" font-weight="bold" stroke="#000" stroke-width="0.5">Capillary and cISF-Glucose</text>
<text x="311.20" y="668.10" font-size="9.7" text-anchor="middle" fill="#000" stroke="#000" stroke-width="0.48" transform="rotate(-90 311.20 668.10)">Glucose in mmol/L</text>
<text x="414.30" y="751.90" font-size="9.7" text-anchor="middle" fill="#000" stroke="#000" stroke-width="0.48">Time in Minutes</text>
<polyline points="331.90,681.90 340.12,676.90 348.34,671.70 356.56,665.40 364.78,655.40 373.00,649.60 381.22,645.40 393.55,638.50 405.88,637.30 418.21,638.50 430.54,643.50 455.20,645.00 479.86,650.00" fill="none" stroke="#000" stroke-width="1.3" stroke-linejoin="round"/>
<polyline points="331.90,681.90 340.12,677.50 348.34,672.30 356.56,666.20 364.78,658.80 373.00,653.50 381.22,650.60 389.44,648.50 397.66,647.30 405.88,647.10 414.10,648.10 422.32,648.80 430.54,650.00 438.76,650.80 446.98,651.90 455.20,653.50 463.42,654.60 471.64,656.50 479.86,656.50" fill="none" stroke="#000" stroke-width="1.3" stroke-linejoin="round"/>
<circle cx="381.22" cy="650.60" r="0.95" fill="#000"/>
<circle cx="389.44" cy="648.50" r="0.95" fill="#000"/>
<circle cx="397.66" cy="647.30" r="0.95" fill="#000"/>
<circle cx="405.88" cy="647.10" r="0.95" fill="#000"/>
<circle cx="414.10" cy="648.10" r="0.95" fill="#000"/>
<circle cx="422.32" cy="648.80" r="0.95" fill="#000"/>
<circle cx="430.54" cy="650.00" r="0.95" fill="#000"/>
<circle cx="438.76" cy="650.80" r="0.95" fill="#000"/>
<circle cx="446.98" cy="651.90" r="0.95" fill="#000"/>
<circle cx="455.20" cy="653.50" r="0.95" fill="#000"/>
<circle cx="463.42" cy="654.60" r="0.95" fill="#000"/>
<circle cx="471.64" cy="656.50" r="0.95" fill="#000"/>
<circle cx="479.86" cy="656.50" r="0.95" fill="#000"/>
<path d="M406.20 633.60 L409.20 626.80 L407.05 627.50 L407.05 624.20 L405.35 624.20 L405.35 627.50 L403.20 626.80 Z" fill="#000"/>
<path d="M406.20 652.50 L409.20 659.30 L407.05 658.60 L407.05 660.90 L405.35 660.90 L405.35 658.60 L403.20 659.30 Z" fill="#000"/>
<path d="M397.0 700.5 H411.5" stroke="#000" stroke-width="1.5"/>
<circle cx="404.25" cy="700.5" r="0.9" fill="#000"/>
<path d="M397.0 713.6 H411.5" stroke="#000" stroke-width="1.5"/>
<circle cx="404.25" cy="713.6" r="1.1" fill="#000"/>
<text x="420.20" y="704.00" font-size="9.85" text-anchor="start" fill="#000" stroke="#000" stroke-width="0.48">Capillary Glucose</text>
<text x="420.20" y="717.00" font-size="9.85" text-anchor="start" fill="#000" stroke="#000" stroke-width="0.48">cISF-Glucose</text>
</g>
</svg>
</body></html>
